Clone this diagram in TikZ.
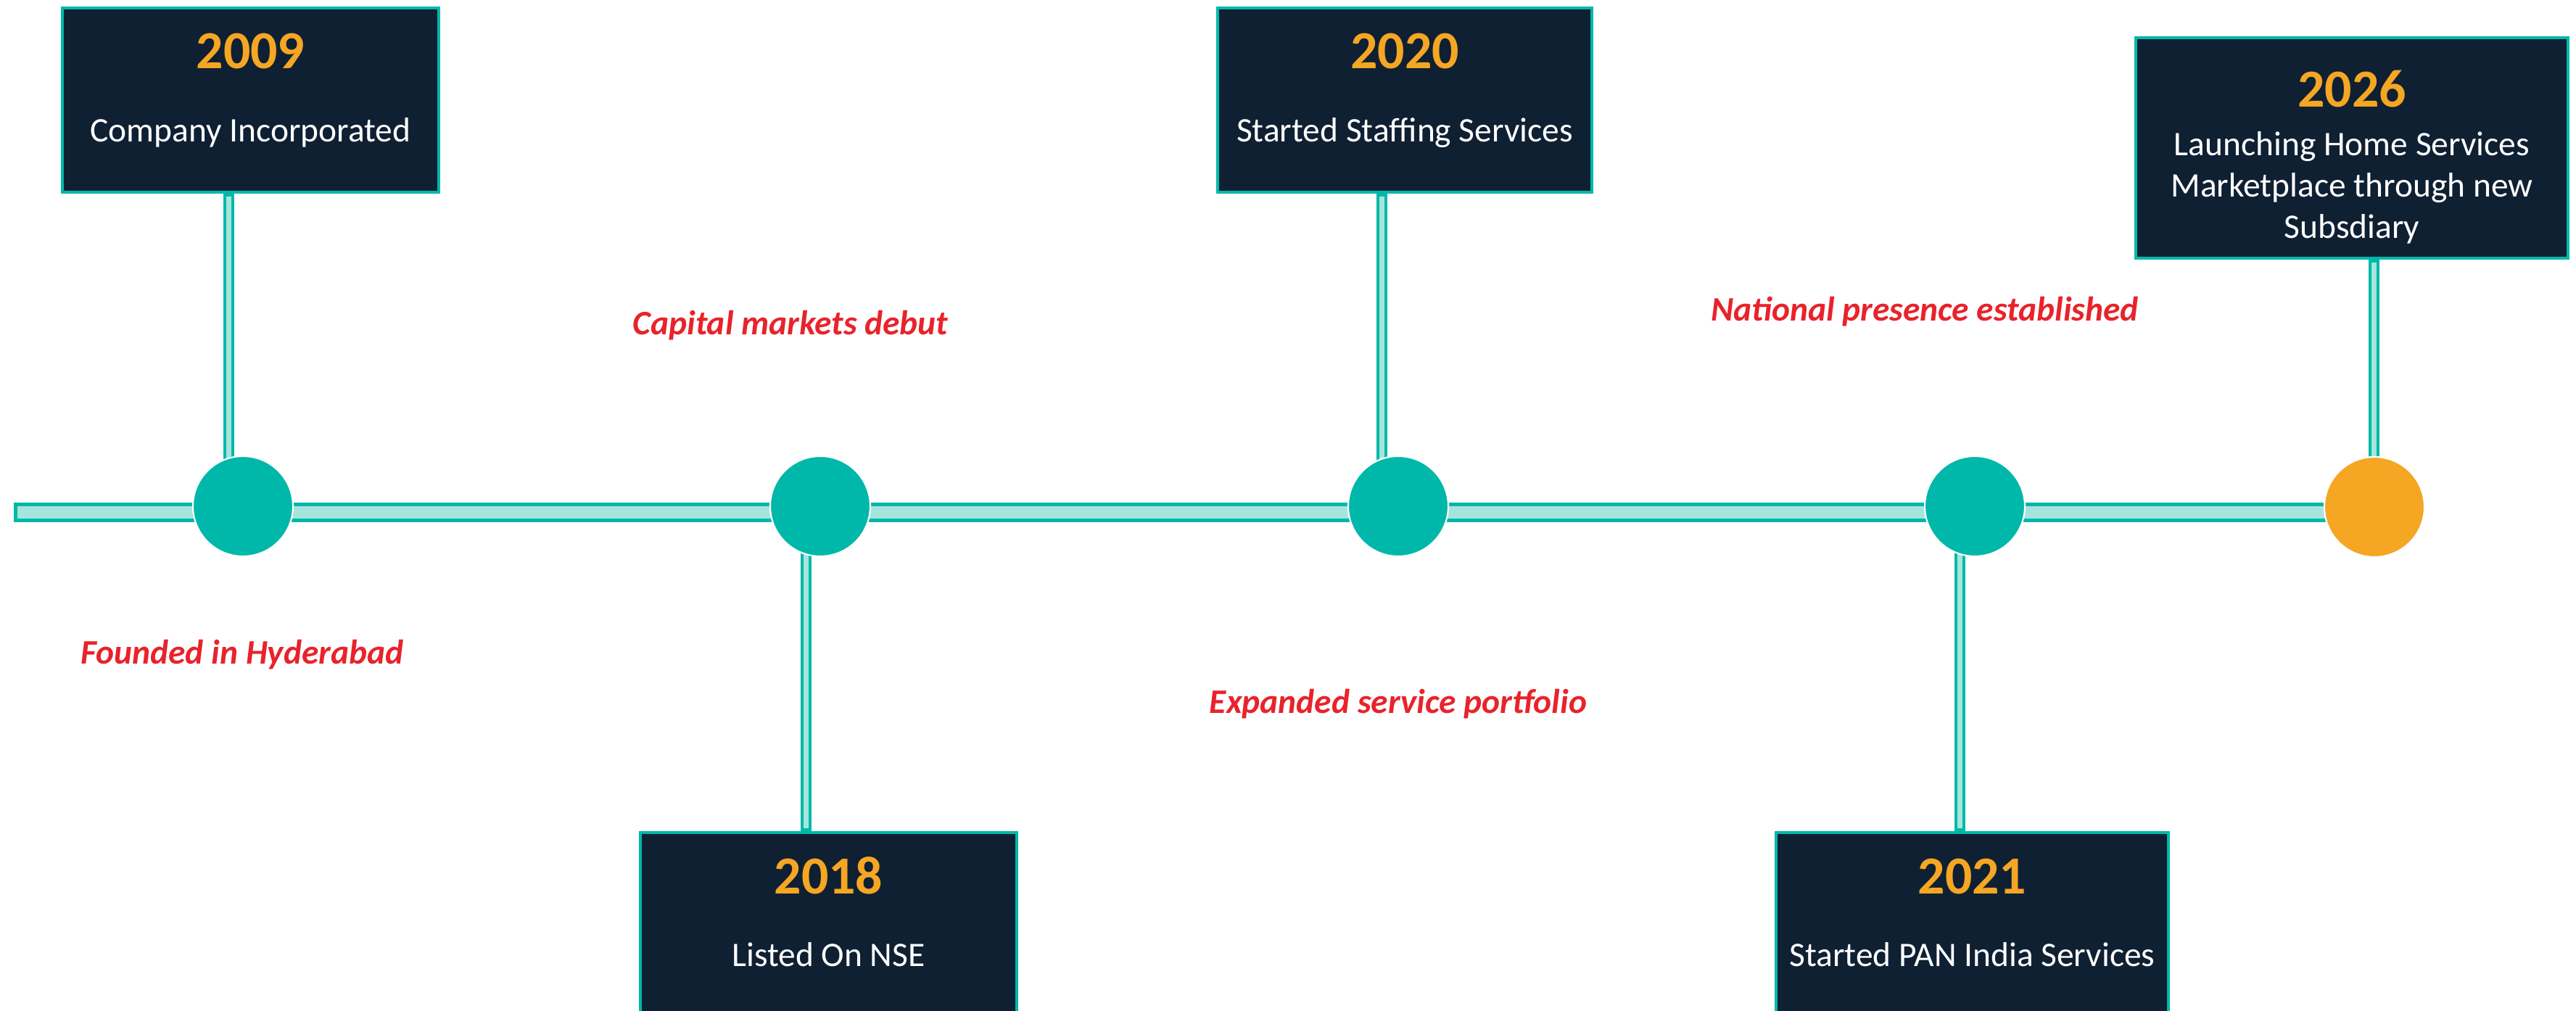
\documentclass[tikz,border=0pt]{standalone}
\usepackage{fontspec}
\setmainfont{Carlito}
\usetikzlibrary{backgrounds}

\definecolor{navy}{HTML}{0F2033}
\definecolor{tealc}{HTML}{00B8A9}
\definecolor{lightteal}{HTML}{A6E5DE}
\definecolor{goldc}{HTML}{F5A623}
\definecolor{redc}{HTML}{E8232B}

\tikzset{
  yearbox/.style={draw=tealc, line width=1.4pt, fill=navy, inner sep=0pt, minimum height=2.54cm},
  yeartext/.style={text=goldc, font=\fontsize{21}{25}\selectfont\bfseries, anchor=base, inner sep=0pt},
  eventtext/.style={text=white, font=\fontsize{13.5}{16.2}\selectfont, anchor=base, inner sep=0pt},
  note/.style={text=redc, font=\fontsize{13.5}{16}\selectfont\bfseries\itshape, anchor=base, inner sep=0pt},
  dot/.style={circle, fill=tealc, draw=white, line width=0.6pt, minimum size=1.38cm, inner sep=0pt},
  stem/.style={draw=tealc, line width=0.15cm,
    postaction={draw=lightteal, line width=0.07cm, shorten <=0.04cm, shorten >=0.04cm}},
  band/.style={draw=tealc, line width=0.05cm, fill=lightteal},
}

\begin{document}
\begin{tikzpicture}

\useasboundingbox (0,0) rectangle (35.52,-13.94);

% ============================
% Milestone boxes
% ============================
\node[yearbox, minimum width=5.19cm] (b09) at (3.455,-1.38) {};
\node[yearbox, minimum width=5.16cm] (b20) at (19.37,-1.38) {};
\node[yearbox, minimum width=5.96cm, minimum height=3.04cm] (b26) at (32.43,-2.04) {};
\node[yearbox, minimum width=5.19cm] (b18) at (11.425,-12.75) {};
\node[yearbox, minimum width=5.41cm] (b21) at (27.195,-12.75) {};

% Years and events (top row)
\node[yeartext] (y09) at ([yshift=-0.86cm]b09.north) {2009};
\node[eventtext] (t09) at ([yshift=-1.87cm]b09.north) {Company Incorporated};

\node[yeartext] (y20) at ([yshift=-0.86cm]b20.north) {2020};
\node[eventtext] (t20) at ([yshift=-1.87cm]b20.north) {Started Staffing Services};

\node[yeartext] (y26) at ([yshift=-0.98cm]b26.north) {2026};
\node[eventtext] (t26) at ([yshift=-1.65cm]b26.north)
{\begin{tabular}[t]{@{}c@{}}
Launching Home Services \\
Marketplace through new \\
Subsdiary
\end{tabular}};

% Years and events (bottom row)
\node[yeartext] (y18) at ([yshift=-0.87cm]b18.north) {2018};
\node[eventtext] (t18) at ([yshift=-1.87cm]b18.north) {Listed On NSE};

\node[yeartext] (y21) at ([yshift=-0.87cm]b21.north) {2021};
\node[eventtext] (t21) at ([yshift=-1.87cm]b21.north) {Started PAN India Services};

% ============================
% Timeline dots
% ============================
\node[dot] (c09) at (3.35,-6.98) {};
\node[dot] (c18) at (11.31,-6.98) {};
\node[dot] (c20) at (19.28,-6.98) {};
\node[dot] (c21) at (27.23,-6.98) {};
\node[dot, fill=goldc] (c26) at (32.74,-6.99) {};

% Stem positions
\coordinate (s09) at (3.15,0);
\coordinate (s18) at (11.11,0);
\coordinate (s20) at (19.05,0);
\coordinate (s21) at (27.02,0);
\coordinate (s26) at (32.73,0);

% Band ends
\coordinate (bandL) at (0.215,-6.955);
\coordinate (bandR) at (32.74,-7.175);

% ============================
% Band and stems behind the dots
% ============================
\begin{scope}[on background layer]
\draw[band] (bandL) rectangle (bandR);
\draw[stem] (s09 |- b09.south) -- (s09 |- c09.center);
\draw[stem] (s20 |- b20.south) -- (s20 |- c20.center);
\draw[stem] (s26 |- b26.south) -- (s26 |- c26.center);
\draw[stem] (s18 |- c18.center) -- (s18 |- b18.north);
\draw[stem] (s21 |- c21.center) -- (s21 |- b21.north);
\end{scope}

% ============================
% Red notes
% ============================
\node[note] (n09) at (3.34,-9.15) {Founded in Hyderabad};
\node[note] (n18) at (10.90,-4.61) {Capital markets debut};
\node[note] (n20) at (19.28,-9.83) {Expanded service portfolio};
\node[note] (n21) at (26.54,-4.42) {National presence established};

\end{tikzpicture}
\end{document}
